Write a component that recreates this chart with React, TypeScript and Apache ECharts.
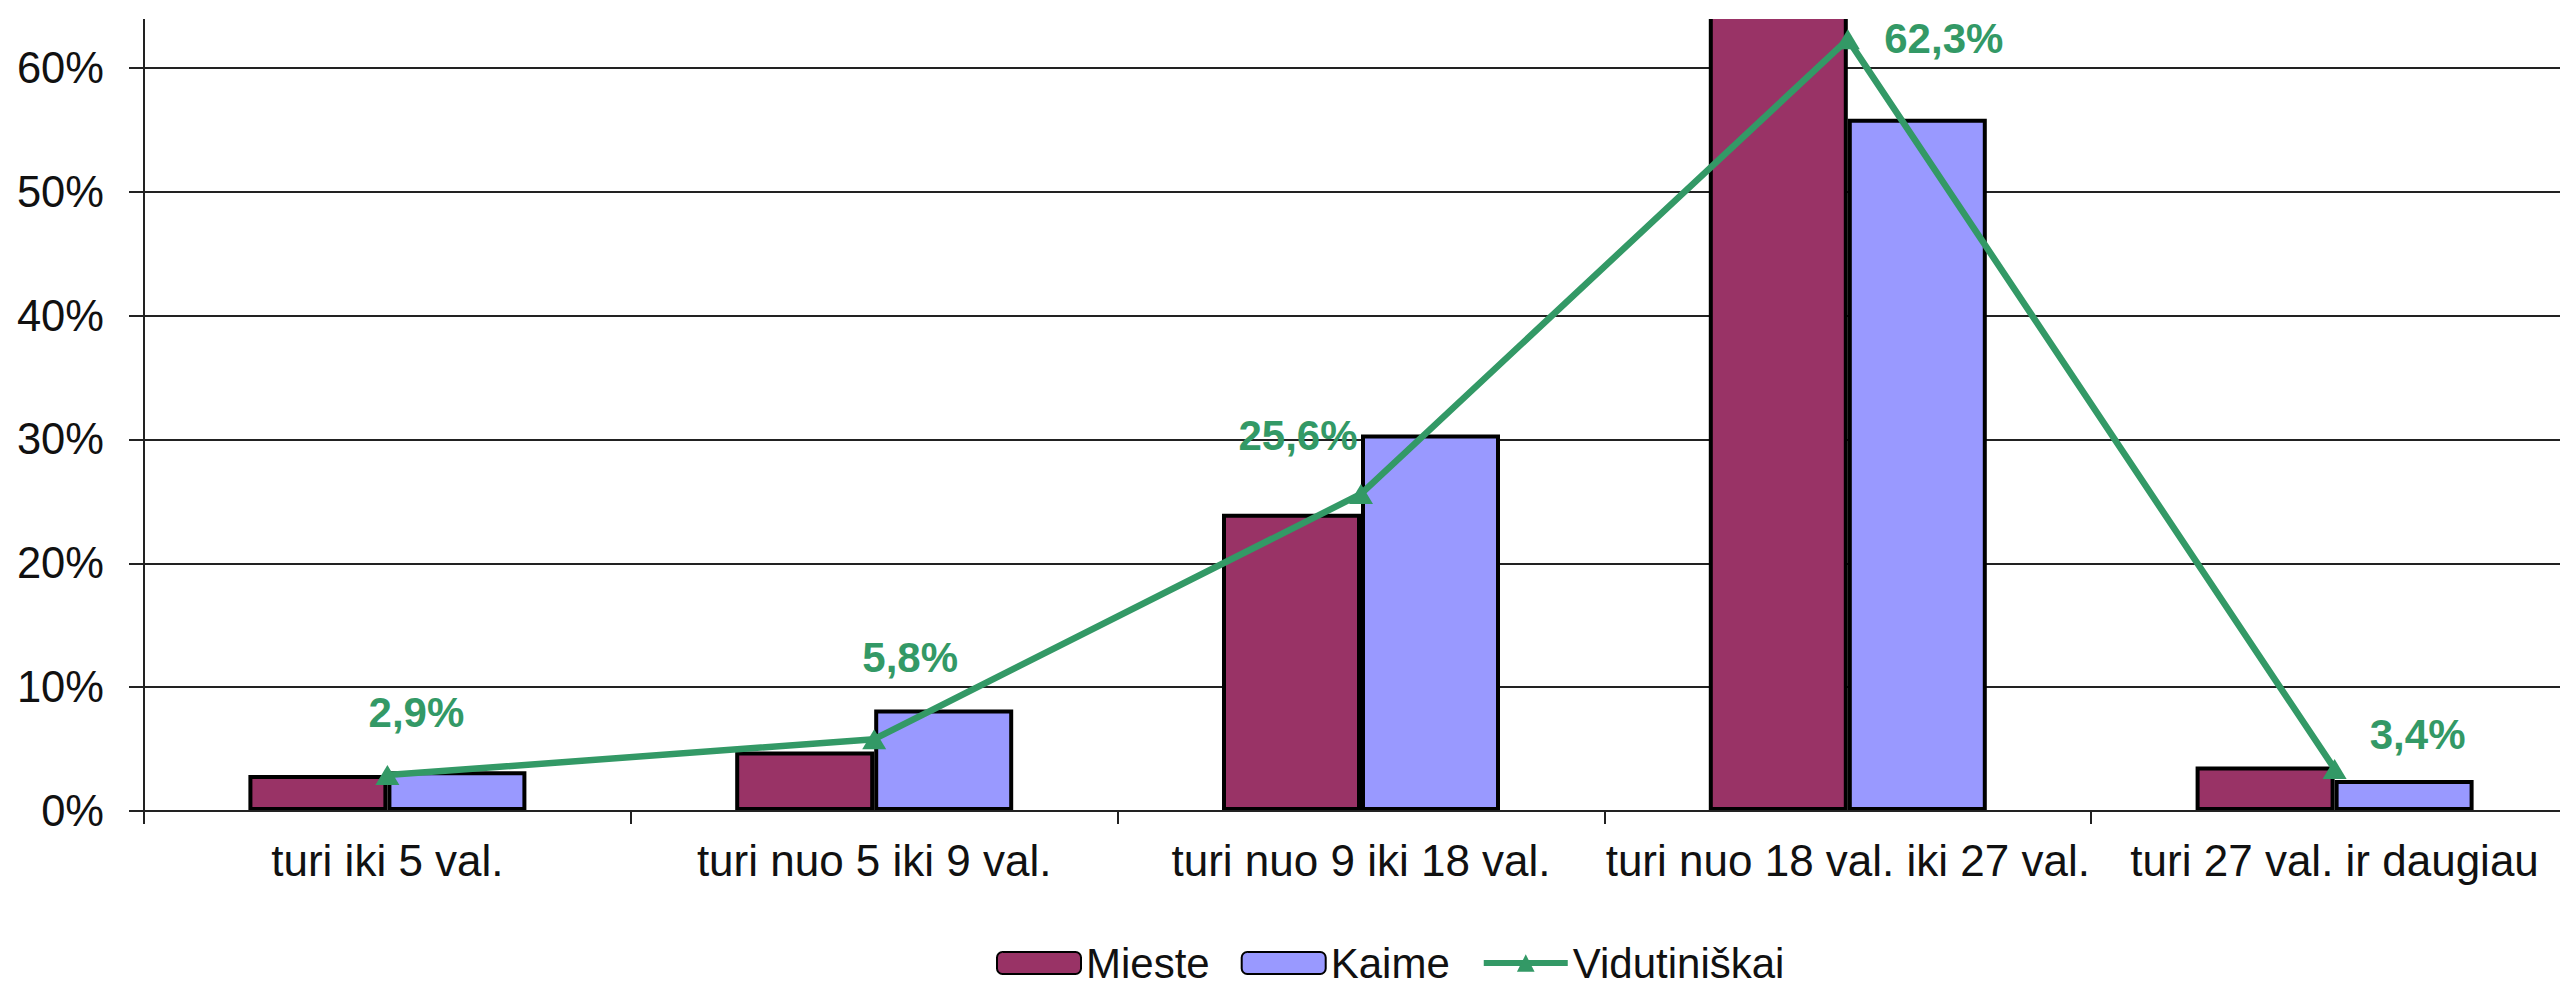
import React, { useEffect, useRef } from "react";
import * as echarts from "echarts";

const categories = [
  "turi iki 5 val.",
  "turi nuo 5 iki 9 val.",
  "turi nuo 9 iki 18 val.",
  "turi nuo 18 val. iki 27 val.",
  "turi 27 val. ir daugiau",
];
const mieste = [2.9, 4.8, 24.0, 66.5, 3.6];
const kaime = [3.2, 8.2, 30.4, 55.9, 2.5];
const vidutiniskai = [2.9, 5.8, 25.6, 62.3, 3.4];
const yTicks = [0, 10, 20, 30, 40, 50, 60, 70];
const yVisibleMax = 60;

// label offsets (px) of the average-line labels, as placed in the original
const avgLabelOffsets: [number, number][] = [
  [29, -63],
  [36, -82],
  [-63, -58],
  [96, -1],
  [83, -34],
];

const FONT = "'Liberation Sans', Arial, sans-serif";
const GREEN = "#339966";
// the original picture is cropped at the top: the chart's top part lies above the page
const HIDDEN_TOP = 56;
const VISIBLE_TOP = 19;

export default function App() {
  const ref = useRef<HTMLDivElement>(null);
  useEffect(() => {
    if (!ref.current) return;
    const chart = echarts.init(ref.current, undefined, { renderer: "svg" });
    chart.setOption({
      animation: false,
      backgroundColor: "#ffffff",
      textStyle: { fontFamily: FONT },
      grid: {
        left: 144,
        right: -18,
        top: 0,
        bottom: 178,
        containLabel: false,
        outerBoundsMode: "none",
      },
      legend: {
        data: ["Mieste", "Kaime", "Vidutiniškai"],
        left: 996,
        top: 942 + HIDDEN_TOP,
        padding: 0,
        itemWidth: 84,
        itemHeight: 22,
        itemGap: 31,
        lineStyle: { width: 6 },
        textStyle: { fontSize: 42, color: "#111", fontFamily: FONT },
      },
      xAxis: {
        type: "category",
        data: categories,
        boundaryGap: true,
        axisLine: { show: true, lineStyle: { color: "#222", width: 2 } },
        axisTick: { show: true, length: 13, lineStyle: { color: "#222", width: 2 } },
        axisLabel: {
          interval: 0,
          margin: 27,
          fontSize: 44,
          color: "#111",
          fontFamily: FONT,
        },
        z: 3,
      },
      yAxis: {
        type: "value",
        min: 0,
        max: yTicks[yTicks.length - 1],
        interval: 10,
        axisLine: { show: true, lineStyle: { color: "#222", width: 2 } },
        axisTick: { show: true, length: 15, lineStyle: { color: "#222", width: 2 } },
        axisLabel: {
          margin: 40,
          fontSize: 43.5,
          color: "#111",
          fontFamily: FONT,
          formatter: (v: number) => (v > yVisibleMax ? "" : `${v}%`),
        },
        splitLine: { show: true, lineStyle: { color: "#222", width: 2 } },
      },
      series: [
        {
          name: "Mieste",
          type: "bar",
          data: mieste,
          barWidth: 139,
          barGap: "0%",
          itemStyle: { color: "#993366", borderColor: "#000", borderWidth: 4 },
          z: 2,
        },
        {
          name: "Kaime",
          type: "bar",
          data: kaime,
          barWidth: 139,
          barGap: "0%",
          itemStyle: { color: "#9999ff", borderColor: "#000", borderWidth: 4 },
          z: 2,
        },
        {
          name: "Vidutiniškai",
          type: "line",
          data: vidutiniskai.map((v, i) => ({
            value: v,
            label: { offset: avgLabelOffsets[i] },
          })),
          symbol: "triangle",
          symbolSize: [24, 20],
          itemStyle: { color: GREEN },
          lineStyle: { color: GREEN, width: 6.5 },
          z: 4,
          label: {
            show: true,
            position: "inside",
            align: "center",
            verticalAlign: "middle",
            fontSize: 42,
            fontWeight: "bold",
            color: GREEN,
            fontFamily: FONT,
            formatter: (p: any) =>
              `${Number(p.value).toFixed(1).replace(".", ",")}%`,
          },
        },
      ],
      graphic: [
        {
          type: "rect",
          left: 0,
          top: 0,
          shape: { width: 2560, height: HIDDEN_TOP + VISIBLE_TOP },
          style: { fill: "#ffffff" },
          z: 100,
        },
      ],
    });
    return () => chart.dispose();
  }, []);
  return (
    <div
      ref={ref}
      style={{
        position: "fixed",
        left: 0,
        top: -HIDDEN_TOP,
        width: 2560,
        height: 989 + HIDDEN_TOP,
      }}
    />
  );
}
